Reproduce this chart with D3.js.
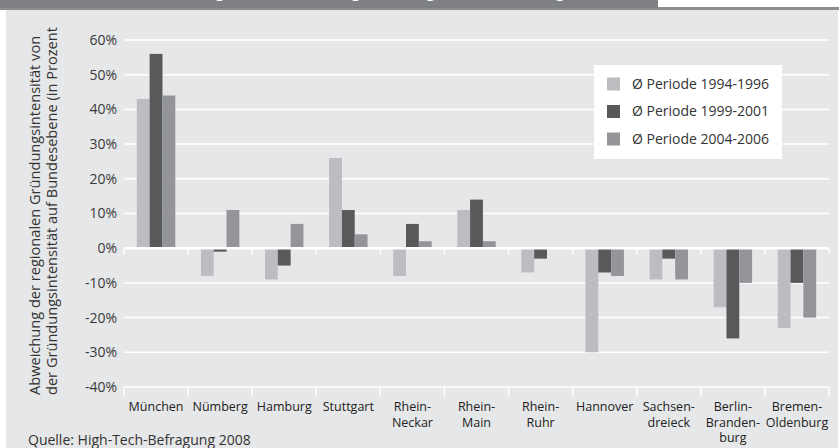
<!DOCTYPE html>
<html lang="de">
<head>
<meta charset="UTF-8" />
<title>Gründungsintensität nach Regionen</title>
<script src="https://d3js.org/d3.v7.min.js"></script>
<style>
    body { margin: 0; background: #fff; }
    svg { display: block; font-family: "Open Sans", sans-serif; }
</style>
</head>
<body>
<svg id="chart"></svg>
<script>
    // regions (line breaks as printed under the axis)
    const regions = [
        ["München"], ["Nümberg"], ["Hamburg"], ["Stuttgart"],
        ["Rhein-", "Neckar"], ["Rhein-", "Main"], ["Rhein-", "Ruhr"],
        ["Hannover"], ["Sachsen-", "dreieck"], ["Berlin-", "Branden-", "burg"],
        ["Bremen-", "Oldenburg"]
    ];
    const series = ["Ø Periode 1994-1996", "Ø Periode 1999-2001", "Ø Periode 2004-2006"];
    // values in percent
    const p1994 = [43, -8, -9, 26, -8, 11, -7, -30, -9, -17, -23];
    const p1999 = [56, -1, -5, 11, 7, 14, -3, -7, -3, -26, -10];
    const p2004 = [44, 11, 7, 4, 2, 2, 0, -8, -9, -10, -20];
    const yTicks = [-40, -30, -20, -10, 0, 10, 20, 30, 40, 50, 60];
    const colors = ["#bcbdc0", "#58595b", "#939598"];

    const width = 839, height = 448;
    const svg = d3.select("#chart").attr("width", width).attr("height", height);

    const names = regions.map(d => d.join(""));
    const values = [p1994, p1999, p2004];

    // panel background
    svg.append("rect").attr("x", 6).attr("y", 10).attr("width", 832).attr("height", height - 10).attr("fill", "#e6e7e8");

    const x = d3.scaleBand().domain(names).range([124, 829]);
    const x1 = d3.scaleBand().domain(d3.range(3))
        .range([x.bandwidth() * 0.2, x.bandwidth() * 0.8]);
    const y = d3.scaleLinear().domain([-40, 60]).range([387, 40]);

    // gridlines
    svg.append("g")
        .selectAll("line")
        .data(yTicks)
        .join("line")
        .attr("x1", 124).attr("x2", 829)
        .attr("y1", d => y(d)).attr("y2", d => y(d))
        .attr("stroke", "#fff").attr("stroke-width", 1.5);

    // y labels
    svg.append("g")
        .attr("font-size", 14)
        .attr("fill", "#3a3a3a")
        .attr("text-anchor", "end")
        .selectAll("text")
        .data(yTicks)
        .join("text")
        .attr("x", 117)
        .attr("y", d => y(d))
        .attr("dy", "0.35em")
        .text(d => d + "%");

    // bars
    const groups = svg.append("g")
        .selectAll("g")
        .data(names)
        .join("g")
        .attr("transform", d => `translate(${x(d)},0)`);

    groups.selectAll("rect")
        .data((d, i) => values.map((v, s) => ({ s, v: v[i] })))
        .join("rect")
        .attr("x", d => x1(d.s))
        .attr("width", x1.bandwidth())
        .attr("y", d => y(Math.max(0, d.v)))
        .attr("height", d => Math.abs(y(d.v) - y(0)))
        .attr("fill", d => colors[d.s]);

    // zero line and bottom axis with ticks
    const bounds = names.map(d => x(d)).concat([x.range()[1]]);
    svg.append("line")
        .attr("x1", 124).attr("x2", 829)
        .attr("y1", y(0)).attr("y2", y(0))
        .attr("stroke", "#fff").attr("stroke-width", 2.5);
    svg.append("g").selectAll("line")
        .data(bounds)
        .join("line")
        .attr("x1", d => d).attr("x2", d => d)
        .attr("y1", y(0)).attr("y2", y(0) + 6)
        .attr("stroke", "#fff").attr("stroke-width", 1.5);
    svg.append("g").selectAll("line")
        .data(bounds)
        .join("line")
        .attr("x1", d => d).attr("x2", d => d)
        .attr("y1", y(-40)).attr("y2", y(-40) + 9)
        .attr("stroke", "#fff").attr("stroke-width", 1.5);

    // category labels
    const cat = svg.append("g")
        .attr("font-size", 12.5)
        .attr("fill", "#222")
        .attr("text-anchor", "middle")
        .selectAll("text")
        .data(regions)
        .join("text")
        .attr("transform", (d, i) => `translate(${x(names[i]) + x.bandwidth() / 2},411)`);
    cat.selectAll("tspan")
        .data(d => d)
        .join("tspan")
        .attr("x", 0)
        .attr("y", (d, i) => i * 15.5)
        .text(d => d);

    // y axis title
    const title = svg.append("text")
        .attr("transform", "translate(40,395) rotate(-90)")
        .attr("font-size", 14.6)
        .attr("fill", "#333");
    title.append("tspan").attr("x", 0).attr("y", 0).text("Abweichung der regionalen Gründungsintensität von");
    title.append("tspan").attr("x", 0).attr("y", 17).text("der Gründungsintensität auf Bundesebene (in Prozent");

    // legend
    const legend = svg.append("g").attr("transform", "translate(594,65)");
    legend.append("rect").attr("width", 188).attr("height", 94).attr("fill", "#fff");
    const item = legend.selectAll("g")
        .data(series)
        .join("g")
        .attr("transform", (d, i) => `translate(13,${19 + i * 27.5})`);
    item.append("rect")
        .attr("y", -6.5).attr("width", 13).attr("height", 13)
        .attr("fill", (d, i) => colors[i]);
    item.append("text")
        .attr("x", 25).attr("dy", "0.35em")
        .attr("font-size", 14).attr("fill", "#333")
        .text(d => d);

    // source
    svg.append("text")
        .attr("x", 28).attr("y", 445)
        .attr("font-size", 14).attr("fill", "#333")
        .text("Quelle: High-Tech-Befragung 2008");

    // header strip (title text cut off at the top edge)
    svg.append("rect").attr("x", 0).attr("y", 7).attr("width", 839).attr("height", 3).attr("fill", "#8d8e90");
    svg.append("rect").attr("x", 0).attr("y", 0).attr("width", 658).attr("height", 8).attr("fill", "#7f8083");
    svg.append("clipPath").attr("id", "head")
        .append("rect").attr("width", 658).attr("height", 7);
    svg.append("text")
        .attr("clip-path", "url(#head)")
        .attr("x", 30).attr("y", -3)
        .attr("font-size", 16).attr("fill", "#fff")
        .text("Abb. 3: Relative Gründungsintensität der Hightech-Regionen im Zeitvergleich");
</script>
</body>
</html>
